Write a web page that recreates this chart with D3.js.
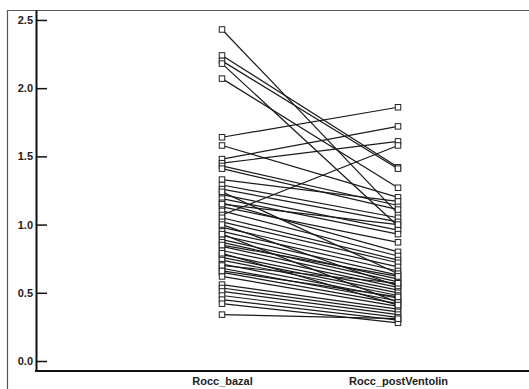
<!DOCTYPE html>
<html>
<head>
<meta charset="utf-8">
<script src="https://cdn.jsdelivr.net/npm/d3@7"></script>
<style>
  html, body { margin: 0; padding: 0; background: #fff; }
  svg { display: block; }
  text { font-family: "Liberation Sans", Arial, sans-serif; font-weight: bold; fill: #222; }
</style>
</head>
<body>
<svg id="chart" width="529" height="389"></svg>
<script>
// ---- data ----
const categories = ["Rocc_bazal", "Rocc_postVentolin"];
const roccBazal = [2.43, 2.24, 2.20, 2.18, 2.07, 1.64, 1.58, 1.48, 1.45, 1.43, 1.41,
  1.33, 1.29, 1.26, 1.22, 1.19, 1.16, 1.13, 1.10, 1.07, 1.05, 1.02, 0.98, 0.95,
  0.92, 0.89, 0.87, 0.84, 0.81, 0.78, 0.76, 0.74, 0.71, 0.68, 0.65, 0.62, 0.56,
  0.535, 0.51, 0.48, 0.45, 0.42, 0.34,
  1.15, 1.24, 1.00, 0.93, 0.85, 0.79, 0.70, 0.66];
const roccPostVentolin = [1.08, 1.42, 1.41, 0.99, 1.27, 1.86, 1.20, 1.72, 1.61, 1.14, 1.11,
  1.17, 1.05, 1.02, 0.96, 0.93, 0.80, 0.87, 0.77, 1.58, 0.74, 0.72, 0.69, 0.66,
  0.63, 0.60, 0.58, 0.56, 0.54, 0.52, 0.50, 0.48, 0.46, 0.44, 0.42, 0.40, 0.38,
  0.36, 0.34, 0.32, 0.30, 0.28, 0.31,
  1.00, 0.64, 0.55, 0.43, 0.62, 0.41, 0.57, 0.47];
const yTicks = [0.0, 0.5, 1.0, 1.5, 2.0, 2.5];

const pairs = roccBazal.map((b, i) => [b, roccPostVentolin[i]]);

const svg = d3.select("#chart");
const W = 529, H = 389;
const axisX = 36, axisY = 371, topY = 10;

const x = d3.scalePoint().domain(categories).range([222, 398]);
const y = d3.scaleLinear().domain([-0.0733, 2.573]).range([axisY, topY]);

// outer frame
svg.append("path")
  .attr("d", `M7.5,${H} V${topY + 0.5} H${W}`)
  .attr("fill", "none").attr("stroke", "#555").attr("stroke-width", 1.2);

// y axis
const yAxis = svg.append("g")
  .attr("transform", `translate(${axisX},0)`)
  .call(d3.axisLeft(y).tickValues(yTicks).tickFormat(d3.format(".1f")).tickSize(-11).tickSizeOuter(0).tickPadding(3));
yAxis.select(".domain").attr("stroke", "#111").attr("stroke-width", 2);
yAxis.selectAll(".tick line").attr("stroke", "#111").attr("stroke-width", 1.5);
yAxis.selectAll(".tick text").attr("font-size", 11).attr("font-weight", "bold")
  .attr("font-family", "'Liberation Sans', Arial, sans-serif").attr("fill", "#222").attr("x", -3);

// x axis line
svg.append("line")
  .attr("x1", axisX - 1).attr("x2", W).attr("y1", axisY).attr("y2", axisY)
  .attr("stroke", "#111").attr("stroke-width", 2.2);

const xAxis = svg.append("g")
  .attr("transform", `translate(0,${axisY})`)
  .call(d3.axisBottom(x).tickSize(0).tickPadding(6));
xAxis.select(".domain").remove();
xAxis.selectAll(".tick text").attr("font-size", 11).attr("font-weight", "bold")
  .attr("font-family", "'Liberation Sans', Arial, sans-serif").attr("fill", "#222");

// lines
svg.append("g").selectAll("line").data(pairs).join("line")
  .attr("x1", x(categories[0])).attr("x2", x(categories[1]))
  .attr("y1", d => y(d[0])).attr("y2", d => y(d[1]))
  .attr("stroke", "#1a1a1a").attr("stroke-width", 1.2);

// markers
const s = 5.5;
const pts = [];
pairs.forEach(p => { pts.push([categories[0], p[0]]); pts.push([categories[1], p[1]]); });
svg.append("g").selectAll("rect").data(pts).join("rect")
  .attr("x", d => x(d[0]) - s / 2).attr("y", d => y(d[1]) - s / 2)
  .attr("width", s).attr("height", s)
  .attr("fill", "#fff").attr("stroke", "#222").attr("stroke-width", 1);
</script>
</body>
</html>
